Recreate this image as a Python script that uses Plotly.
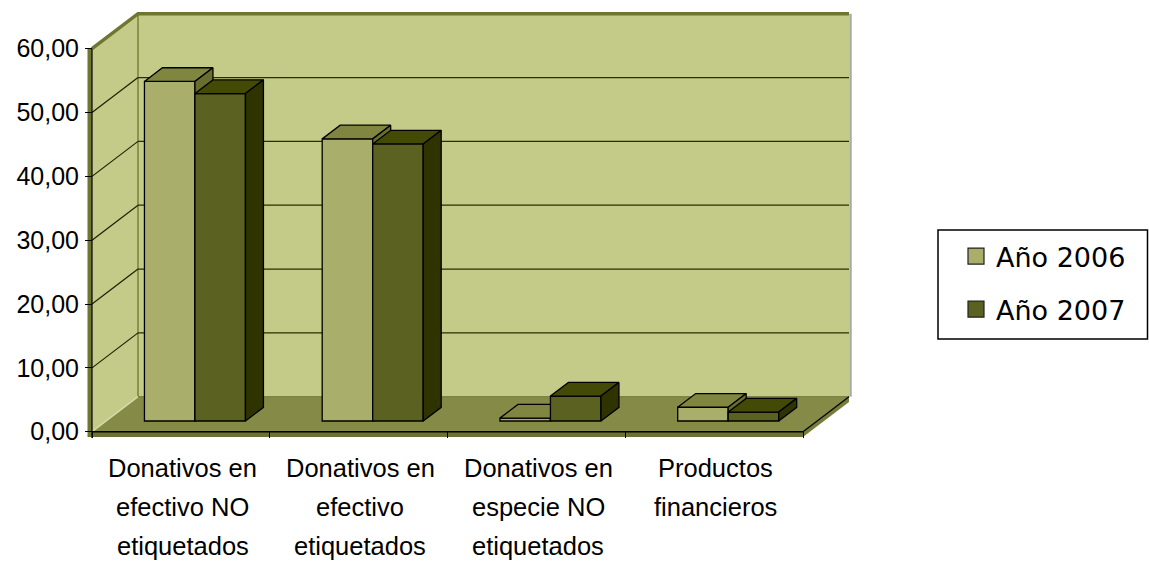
import plotly.graph_objects as go

# ---------------- data ----------------
categories = [
    "Donativos en<br>efectivo NO<br>etiquetados",
    "Donativos en<br>efectivo<br>etiquetados",
    "Donativos en<br>especie NO<br>etiquetados",
    "Productos<br>financieros",
]
series_names = ["Año 2006", "Año 2007"]
values_2006 = [53.2, 44.2, 0.45, 2.15]
values_2007 = [51.3, 43.4, 3.9, 1.4]
y_ticks = [0, 10, 20, 30, 40, 50, 60]

# ---------------- layout constants ----------------
OFF = 0                 # page body margin (removed by post script)
W, H = 1149 - OFF, 563 - OFF
L, R, T = 85 - OFF, 297, 11 - OFF
X_PX = 177.75          # px per category on the front plane
Y_PX = 6.383           # px per value unit
plot_w = W - L - R
plot_h = 427
B = H - T - plot_h
x_min = -0.5 - 7 / X_PX
x_max = x_min + plot_w / X_PX
y_min = -6.3 / Y_PX
y_max = y_min + plot_h / Y_PX

DX = 46 / X_PX          # full depth offset (x units)
DY = 35 / Y_PX          # full depth offset (value units)
F_FRONT = 0.306         # bar front-face depth fraction
F_DEPTH = 0.391         # bar depth fraction
BX = F_FRONT * DX
BASE = F_FRONT * DY
BDX = F_DEPTH * DX
BDY = F_DEPTH * DY
BW = 50.5 / X_PX        # bar width
SLAB = 5.4 / Y_PX       # floor thickness

front_colors = ["#a9ae6b", "#5b6120"]
top_colors = ["#80863f", "#434a05"]
side_colors = ["#686e2c", "#2e3300"]
wall_color = "#c4cb89"
floor_color = "#858a47"
rim_color = "#6f7630"

FONT = "Liberation Sans, Arial, sans-serif"

n = len(categories)
x_lo, x_hi = -0.5, n - 0.5
y_top = y_ticks[-1]
plot_bottom_px = OFF + T + plot_h


def paper_x(px):
    return (px - OFF - L) / plot_w


def paper_y(py):
    return (plot_bottom_px - py) / plot_h


fig = go.Figure()

# ---------------- bars ----------------
axes = [("x", "y"), ("x2", "y2")]
for j, vals in enumerate([values_2006, values_2007]):
    xa, ya = axes[j]
    centers = [i + BX + (j - 0.5) * BW for i in range(n)]
    xt, yt_, xs, ys = [], [], [], []
    for c, v in zip(centers, vals):
        x0, x1 = c - BW / 2, c + BW / 2
        yb, yt = BASE, BASE + v
        xt += [x0, x1, x1 + BDX, x0 + BDX, x0, None]
        yt_ += [yt, yt, yt + BDY, yt + BDY, yt, None]
        xs += [x1, x1, x1 + BDX, x1 + BDX, x1, None]
        ys += [yb, yt, yt + BDY, yb + BDY, yb, None]
    fig.add_trace(go.Bar(
        x=centers, y=vals, base=BASE, width=BW,
        marker=dict(color=front_colors[j], line=dict(color="black", width=1.3)),
        xaxis=xa, yaxis=ya, showlegend=False, hoverinfo="skip",
    ))
    fig.add_trace(go.Scatter(
        x=xt, y=yt_, mode="lines", fill="toself", fillcolor=top_colors[j],
        line=dict(color="black", width=1.3), xaxis=xa, yaxis=ya,
        showlegend=False, hoverinfo="skip",
    ))
    fig.add_trace(go.Scatter(
        x=xs, y=ys, mode="lines", fill="toself", fillcolor=side_colors[j],
        line=dict(color="black", width=1.3), xaxis=xa, yaxis=ya,
        showlegend=False, hoverinfo="skip",
    ))

# legend entries
for j, name in enumerate(series_names):
    fig.add_trace(go.Scatter(
        x=[None], y=[None], mode="markers", name=name, legendgroup=name,
        marker=dict(symbol="square", size=16, color=front_colors[j],
                    line=dict(color="#222222", width=1.2)),
    ))

# ---------------- walls / floor / grid ----------------
shapes = []


def poly(pts, fill, line_color=None, lw=0):
    path = "M " + " L ".join(f"{px},{py}" for px, py in pts) + " Z"
    return dict(type="path", path=path, xref="x", yref="y", layer="below",
                fillcolor=fill, line=dict(color=line_color or fill, width=lw))


def seg(x0, y0, x1, y1, color, width):
    return dict(type="line", x0=x0, y0=y0, x1=x1, y1=y1, xref="x", yref="y",
                layer="below", line=dict(color=color, width=width))


# back wall
shapes.append(poly([(x_lo + DX, DY), (x_hi + DX, DY), (x_hi + DX, y_top + DY),
                    (x_lo + DX, y_top + DY)], wall_color))
# left wall
shapes.append(poly([(x_lo, 0), (x_lo, y_top), (x_lo + DX, y_top + DY),
                    (x_lo + DX, DY)], wall_color))
# floor
shapes.append(poly([(x_lo, 0), (x_hi, 0), (x_hi + DX, DY), (x_lo + DX, DY)],
                   floor_color))
# floor slab front & right side
shapes.append(poly([(x_lo, -SLAB), (x_hi, -SLAB), (x_hi, 0), (x_lo, 0)], "#6b7131"))
shapes.append(poly([(x_hi, -SLAB), (x_hi, 0), (x_hi + DX, DY),
                    (x_hi + DX, DY - SLAB)], "#767c3b"))
# left wall thickness strip
shapes.append(poly([(x_lo - 4.5 / X_PX, -SLAB), (x_lo, -SLAB), (x_lo, y_top),
                    (x_lo - 4.5 / X_PX, y_top)], rim_color))
# back wall right shadow
shapes.append(seg(x_hi + DX + 1.5 / X_PX, DY, x_hi + DX + 1.5 / X_PX,
                  y_top + DY, "#a8a8a8", 2.5))
# corner edges
shapes.append(seg(x_lo + DX, DY, x_lo + DX, y_top + DY, "#7b8236", 1.5))
shapes.append(seg(x_lo, 0, x_lo + DX, DY, "#d6daa6", 1.5))
shapes.append(seg(x_lo + DX, DY, x_hi + DX, DY, "#6e7433", 1))
# gridlines
for v in y_ticks[1:-1]:
    shapes.append(seg(x_lo, v, x_lo + DX, v + DY, "#1c1f00", 1.2))
    shapes.append(seg(x_lo + DX, v + DY, x_hi + DX, v + DY, "#2a2e00", 1.2))
# top rim
shapes.append(dict(type="path", xref="x", yref="y", layer="below",
                   path=f"M {x_lo},{y_top} L {x_lo + DX},{y_top + DY} L {x_hi + DX},{y_top + DY}",
                   line=dict(color=rim_color, width=3.5)))
# front axis lines
shapes.append(seg(x_lo, 0, x_hi, 0, "black", 1.5))
shapes.append(seg(x_hi, 0, x_hi + DX, DY, "black", 1.2))
shapes.append(seg(x_lo, -SLAB - 0.6, x_lo, y_top, "black", 1.2))
# legend frame
shapes.append(dict(type="rect", xref="paper", yref="paper",
                   x0=paper_x(938), x1=paper_x(1147.5),
                   y0=paper_y(339), y1=paper_y(230),
                   line=dict(color="black", width=1.5), fillcolor="white",
                   layer="below"))

# ---------------- category labels ----------------
annotations = []
line_px = [467.5, 507.0, 545.5]          # page pixel centres of label lines
for i, cat in enumerate(categories):
    for k, txt in enumerate(cat.split("<br>")):
        annotations.append(dict(
            x=i + 0.01, y=paper_y(line_px[k]), xref="x", yref="paper",
            text=txt, showarrow=False, xanchor="center", yanchor="middle",
            font=dict(family=FONT, size=25.5, color="black"),
        ))

axis_common = dict(showgrid=False, zeroline=False, showline=False)
fig.update_layout(
    width=W, height=H,
    margin=dict(l=L, r=R, t=T, b=B, pad=0),
    paper_bgcolor="white", plot_bgcolor="white",
    separators=",.",
    barmode="overlay",
    shapes=shapes, annotations=annotations,
    xaxis=dict(range=[x_min, x_max], tickvals=[i - 0.5 for i in range(n + 1)],
               ticks="inside", ticklen=6, tickcolor="black", tickwidth=1.2,
               showticklabels=False, **axis_common),
    yaxis=dict(range=[y_min, y_max], tickvals=y_ticks, tickformat=".2f",
               ticks="inside", ticklen=7, tickcolor="black", tickwidth=1.2,
               tickfont=dict(family=FONT, size=25, color="black"),
               ticklabelstandoff=5, **axis_common),
    xaxis2=dict(range=[x_min, x_max], overlaying="x", visible=False),
    yaxis2=dict(range=[y_min, y_max], overlaying="y", visible=False),
    legend=dict(x=paper_x(938), y=paper_y(232),
                xanchor="left", yanchor="top",
                borderwidth=0, bgcolor="rgba(0,0,0,0)",
                font=dict(family="DejaVu Sans, sans-serif", size=27, color="black"),
                tracegroupgap=15, indentation=18, itemwidth=30),
    showlegend=True,
)

fig.write_html(
    "out.html",
    config={"displayModeBar": False},
    post_script="document.body.style.margin='0';document.body.style.overflow='hidden';",
)
